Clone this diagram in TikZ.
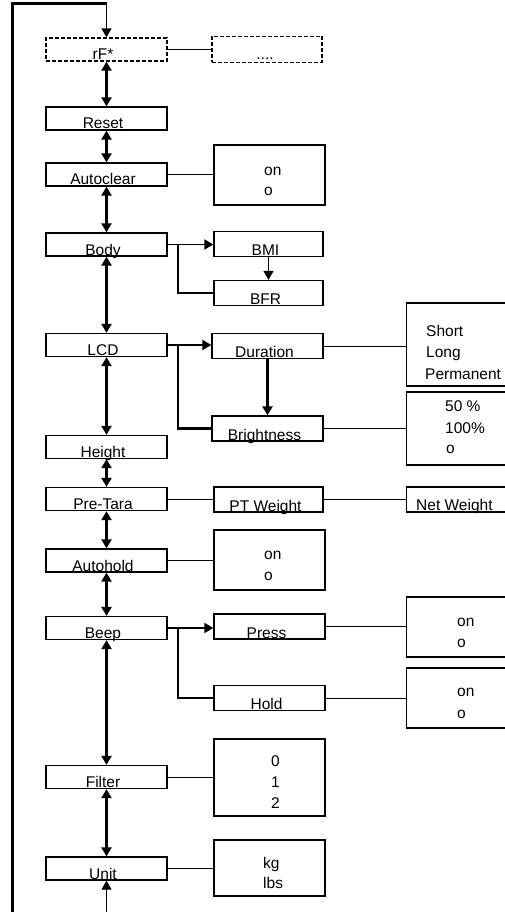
\documentclass[tikz,border=0pt]{standalone}
\usepackage{fontspec}
\setmainfont{Liberation Sans}
\usetikzlibrary{arrows.meta}
\begin{document}
\begin{tikzpicture}[x=1pt,y=-1pt,
  every node/.style={font=\fontsize{15.5}{18}\selectfont, inner sep=0pt},
  mainbox/.style={draw, line width=1.3pt, minimum width=121pt, text height=22pt, text depth=1pt, execute at end node={\hspace*{7pt}}},
  subbox/.style={draw, line width=1.3pt, minimum width=#1, text height=24pt, text depth=1pt, execute at end node={\hspace*{6pt}}},
  optbox/.style={draw, line width=1.3pt},
  dashbox/.style={dash pattern=on 4pt off 2pt},
  opttxt/.style={anchor=base west},
  tip/.style={-{Triangle[width=10pt,length=9pt]}},
  dbl/.style={{Triangle[width=10pt,length=9pt]}-{Triangle[width=10pt,length=9pt]}, line width=3pt},
  conn/.style={line width=1pt},
  loopline/.style={line width=3pt}
]
\clip (0,0) rectangle (505,912);
\fill[white] (0,0) rectangle (505,912);

% main column
\node[mainbox, dashbox] (rf) at (106.5,49.5) {rF*};
\node[mainbox] (reset) at (106.5,118.5) {Reset};
\node[mainbox] (autoclear) at (106.5,174.5) {Autoclear};
\node[mainbox] (body) at (106.5,244.5) {Body};
\node[mainbox] (lcd) at (106.5,345) {LCD};
\node[mainbox] (height) at (106.5,447) {Height};
\node[mainbox] (pretara) at (106.5,499) {Pre-Tara};
\node[mainbox] (autohold) at (106.5,560.5) {Autohold};
\node[mainbox] (beep) at (106.5,628) {Beep};
\node[mainbox] (filter) at (106.5,777) {Filter};
\node[mainbox] (unit) at (106.5,868.5) {Unit};

% second column
\node[draw, line width=1.3pt, dashbox, minimum width=110pt, text height=23pt, text depth=3pt, execute at end node={\hspace*{4pt}}] (dots) at (267,49.5) {....};
\node[optbox, minimum width=111pt, minimum height=60pt] (acopt) at (269.5,175) {};
\node[subbox=109pt] (bmi) at (268.5,244) {BMI};
\node[subbox=109pt] (bfr) at (268.5,293) {BFR};
\node[subbox=111pt] (duration) at (267.5,346) {Duration};
\node[subbox=111pt] (brightness) at (267.5,428.5) {Brightness};
\node[subbox=109pt] (ptw) at (268.5,499.5) {PT Weight};
\node[optbox, minimum width=111pt, minimum height=60pt] (ahopt) at (269.5,560) {};
\node[subbox=111pt] (press) at (269.5,626.5) {Press};
\node[subbox=111pt] (hold) at (269.5,698) {Hold};
\node[optbox, minimum width=111pt, minimum height=77pt] (filtopt) at (269.5,777.5) {};
\node[optbox, minimum width=111pt, minimum height=56pt] (unitopt) at (269.5,868) {};

% third column (cut off at the right edge)
\node[optbox, minimum width=113.5pt, minimum height=83pt] (duropt) at (463.25,344.5) {};
\node[optbox, minimum width=113.5pt, minimum height=73pt] (briopt) at (463.25,428.5) {};
\node[optbox, minimum width=113.5pt, minimum height=25pt] (netw) at (463.25,499.5) {};
\node[optbox, minimum width=113.5pt, minimum height=60pt] (pressopt) at (463.25,627) {};
\node[optbox, minimum width=113.5pt, minimum height=60pt] (holdopt) at (463.25,698) {};

% option texts
\node[opttxt] (ac1) at (264,175.5) {on};
\node[opttxt] (ac2) at (264,196) {o};
\node[opttxt] (du1) at (426,336) {Short};
\node[opttxt] (du2) at (426,357.5) {Long};
\node[opttxt] (du3) at (425,379) {Permanent};
\node[opttxt] (br1) at (445,411.5) {50 \%};
\node[opttxt] (br2) at (445,433) {100\%};
\node[opttxt] (br3) at (446,453.5) {o};
\node[opttxt] (nw) at (416,510.5) {Net Weight};
\node[opttxt] (ah1) at (264,559.5) {on};
\node[opttxt] (ah2) at (264,580) {o};
\node[opttxt] (pr1) at (457,626) {on};
\node[opttxt] (pr2) at (457,647) {o};
\node[opttxt] (ho1) at (457,696.5) {on};
\node[opttxt] (ho2) at (457,718) {o};
\node[opttxt] (fi1) at (271,766) {0};
\node[opttxt] (fi2) at (271,787) {1};
\node[opttxt] (fi3) at (271,808) {2};
\node[opttxt] (un1) at (263,868.5) {kg};
\node[opttxt] (un2) at (263,888.5) {lbs};

% main double arrows
\draw[dbl] (rf.south) -- (reset.north);
\draw[dbl] (reset.south) -- (autoclear.north);
\draw[dbl] (autoclear.south) -- (body.north);
\draw[dbl] (body.south) -- (lcd.north);
\draw[dbl] (lcd.south) -- (height.north);
\draw[dbl] (height.south) -- (pretara.north);
\draw[dbl] (pretara.south) -- (autohold.north);
\draw[dbl] (autohold.south) -- (beep.north);
\draw[dbl] (beep.south) -- (filter.north);
\draw[dbl] (filter.south) -- (unit.north);

% loop
\coordinate (loopbl) at (12,920);
\coordinate (looptl) at (12,4);
\coordinate (looptr) at (106.5,4);
\coordinate (unitb) at (106.5,920);
\draw[loopline, line join=miter] (loopbl) -- (looptl) -- (looptr);
\draw[tip, line width=1.5pt] (looptr) -- (rf.north);
\draw[tip, line width=1pt] (unitb) -- (unit.south);

% simple connectors
\draw[conn] (rf.east) -- (dots.west);
\draw[conn] (autoclear.east) -- (autoclear.east -| acopt.west);
\draw[conn] (duration.east) -- (duration.east -| duropt.west);
\draw[conn] (brightness.east) -- (brightness.east -| briopt.west);
\draw[conn] (pretara.east) -- (pretara.east -| ptw.west);
\draw[conn] (ptw.east) -- (ptw.east -| netw.west);
\draw[conn] (autohold.east) -- (autohold.east -| ahopt.west);
\draw[conn] (press.east) -- (press.east -| pressopt.west);
\draw[conn] (hold.east) -- (hold.east -| holdopt.west);
\draw[conn] (filter.east) -- (filter.east -| filtopt.west);
\draw[conn] (unit.east) -- (unit.east -| unitopt.west);

% Body branch
\coordinate (jbody) at (178,244.5);
\draw[tip, line width=1.8pt] (body.east) -- (body.east -| bmi.west);
\draw[line width=1.3pt] (jbody) |- (bfr.west);
\draw[tip, line width=1.3pt] (bmi.south) -- (bfr.north);

% LCD branch
\coordinate (jlcd) at (178,345);
\draw[tip, line width=2.5pt] (lcd.east) -- (lcd.east -| duration.west);
\draw[line width=2.5pt, line join=miter] (jlcd) |- (brightness.west);
\draw[tip, line width=2.5pt] (duration.south) -- (brightness.north);

% Beep branch
\coordinate (jbeep) at (178,628);
\draw[tip, line width=1.8pt] (beep.east) -- (beep.east -| press.west);
\draw[line width=1.5pt, line join=miter] (jbeep) |- (hold.west);
\end{tikzpicture}
\end{document}
